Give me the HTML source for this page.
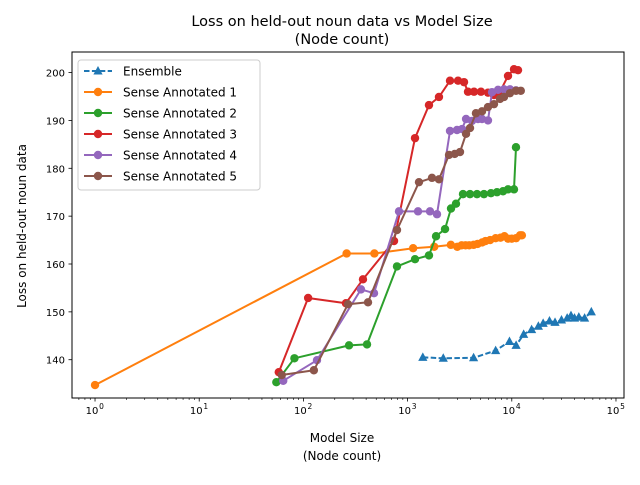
<!DOCTYPE html>
<html><head><meta charset="utf-8"><style>
body{margin:0;background:#fff}
svg text{font-family:"DejaVu Sans","Liberation Sans",sans-serif;fill:#000}
</style></head><body>
<svg id="chart" width="640" height="480" xmlns="http://www.w3.org/2000/svg">
<rect width="640" height="480" fill="#fff"/>
<g id="plot"></g>
<rect x="72" y="52" width="552" height="346" fill="none" stroke="#000" stroke-width="1"/>
<text x="342" y="26" font-size="14.5" text-anchor="middle">Loss on held-out noun data vs Model Size</text>
<text x="342" y="44" font-size="14.5" text-anchor="middle">(Node count)</text>
<text x="342" y="442" font-size="12" text-anchor="middle">Model Size</text>
<text x="342" y="460" font-size="12" text-anchor="middle">(Node count)</text>
<text transform="translate(26,226) rotate(-90)" font-size="12" text-anchor="middle">Loss on held-out noun data</text>
<g id="legend"></g>
</svg>
<script>
const ensX=[1400,2200,4300,7000,9500,11000,13000,15500,18000,20000,23000,26000,30000,34000,37000,40000,44000,50000,58000];
const ensY=[140.5,140.3,140.4,141.9,143.8,143.0,145.3,146.3,147.0,147.6,148.1,147.8,148.3,148.7,149.2,148.7,148.9,148.7,150.0];
const s1X=[1,260,480,1130,1800,2600,3000,3300,3600,3900,4300,4700,5200,5600,6200,7000,7800,8500,9200,10000,11000,12000,12500];
const s1Y=[134.7,162.2,162.2,163.3,163.6,164.0,163.6,163.9,163.9,163.9,164.0,164.2,164.5,164.8,165.0,165.4,165.5,165.8,165.3,165.3,165.4,166.0,166.0];
const s2X=[55,82,274,408,791,1178,1604,1875,2287,2611,2913,3403,3971,4637,5409,6314,7211,8240,9204,10500,10970];
const s2Y=[135.3,140.3,143.0,143.2,159.5,161.0,161.8,165.8,167.3,171.6,172.6,174.6,174.6,174.6,174.6,174.8,175.0,175.2,175.6,175.6,184.4];
const s3X=[58,111,256,373,741,1178,1604,2000,2553,3048,3479,3800,4340,5060,5910,6750,7710,9200,10500,11480];
const s3Y=[137.4,152.9,151.8,156.8,164.8,186.3,193.2,194.9,198.3,198.3,198.0,196.0,196.0,196.0,195.8,195.3,196.0,199.3,200.7,200.5];
const s4X=[64,135,357,476,827,1259,1641,1915,2553,2980,3330,3640,4150,4740,5180,5910,6460,7380,8420,9610,10970];
const s4Y=[135.6,139.9,154.7,153.9,171.0,171.0,171.0,170.4,187.8,188.0,188.2,190.3,189.9,190.3,190.3,190.0,195.9,196.4,196.5,196.5,196.3];
const s5X=[62,126,268,417,791,1286,1714,2000,2497,2833,3184,3640,3971,4530,5180,5910,6750,7710,8420,9610,10970,12200];
const s5Y=[136.8,137.8,151.6,152.0,167.1,177.1,178.0,177.7,182.8,183.0,183.4,187.2,188.4,191.5,191.9,192.8,193.4,194.5,194.9,195.7,196.2,196.2];
const yTicks=[140,150,160,170,180,190,200];
const xTickExp=[0,1,2,3,4,5];

const L=72,R=624,T=52,B=398;
const xMinE=-0.221,xMaxE=5.077,yMin=132.0,yMax=204.3;
const xs=v=>L+(Math.log10(v)-xMinE)/(xMaxE-xMinE)*(R-L);
const ys=v=>B-(v-yMin)/(yMax-yMin)*(B-T);
const NS="http://www.w3.org/2000/svg";
const plot=document.getElementById('plot');
function mk(tag,attrs,parent){const e=document.createElementNS(NS,tag);for(const k in attrs)e.setAttribute(k,attrs[k]);(parent||plot).appendChild(e);return e;}

yTicks.forEach(v=>{
  const g=mk('g',{});
  
  
  mk('line',{x1:L-3.5,x2:L,y1:ys(v),y2:ys(v),stroke:'#000','stroke-width':0.8},g);
  const t=mk('text',{x:L-7,y:ys(v)+4,'font-size':'10','text-anchor':'end'},g);t.textContent=v;
});
xTickExp.forEach(e=>{
  const x=L+(e-xMinE)/(xMaxE-xMinE)*(R-L);
  const g=mk('g',{});
  
  
  mk('line',{x1:x,x2:x,y1:B,y2:B+3.5,stroke:'#000','stroke-width':0.8},g);
  const t=mk('text',{x:x-3,y:B+16,'font-size':'10','text-anchor':'middle'},g);
  t.textContent='10';
  const s=mk('text',{x:x+6.5,y:B+11,'font-size':'7.5','text-anchor':'middle'},g);s.textContent=e;
  for(let m=2;m<10;m++){const ee=e+Math.log10(m);if(ee>xMaxE)break;
    const xm=L+(ee-xMinE)/(xMaxE-xMinE)*(R-L);
    mk('line',{x1:xm,x2:xm,y1:B,y2:B+2,stroke:'#000','stroke-width':0.6},g);}
});
{const e=-1;for(let m=2;m<10;m++){const ee=e+Math.log10(m);if(ee<xMinE)continue;const xm=L+(ee-xMinE)/(xMaxE-xMinE)*(R-L);mk('line',{x1:xm,x2:xm,y1:B,y2:B+2,stroke:'#000','stroke-width':0.6});}}

const series=[
 {name:'Ensemble',x:ensX,y:ensY,c:'#1f77b4',dash:'5.5,2.4',m:'tri'},
 {name:'Sense Annotated 1',x:s1X,y:s1Y,c:'#ff7f0e',m:'o'},
 {name:'Sense Annotated 2',x:s2X,y:s2Y,c:'#2ca02c',m:'o'},
 {name:'Sense Annotated 3',x:s3X,y:s3Y,c:'#d62728',m:'o'},
 {name:'Sense Annotated 4',x:s4X,y:s4Y,c:'#9467bd',m:'o'},
 {name:'Sense Annotated 5',x:s5X,y:s5Y,c:'#8c564b',m:'o'}
];
function marker(type,x,y,c,g){
  if(type==='o') return mk('circle',{cx:x,cy:y,r:4.2,fill:c},g);
  return mk('polygon',{points:`${x},${y-5} ${x-4.6},${y+3.5} ${x+4.6},${y+3.5}`,fill:c},g);
}
series.forEach((s,i)=>{
  const slug=s.name.toLowerCase().replace(/ /g,'-');
  const g=mk('g',{});
  
  
  const pts=s.x.map((v,j)=>xs(v).toFixed(1)+','+ys(s.y[j]).toFixed(1)).join(' ');
  const pl=mk('polyline',{points:pts,fill:'none',stroke:s.c,'stroke-width':2,'stroke-linejoin':'round'},g);
  if(s.dash)pl.setAttribute('stroke-dasharray',s.dash);
  s.x.forEach((v,j)=>{const p=marker(s.m,xs(v),ys(s.y[j]),s.c,g);
    
    });
  const lg=document.getElementById('legend');
  const ly=71+i*21;
  const e=mk('g',{},lg);
  
  
  const ln=mk('line',{x1:84,x2:112,y1:ly,y2:ly,stroke:s.c,'stroke-width':2},e);
  if(s.dash)ln.setAttribute('stroke-dasharray',s.dash);
  marker(s.m,98,ly,s.c,e);
  const t=mk('text',{x:123,y:ly+4.5,'font-size':'12'},e);t.textContent=s.name;
});
const lgBox=mk('rect',{x:78,y:60,width:182,height:130,rx:3,fill:'#fff','fill-opacity':0.8,stroke:'#ccc','stroke-width':1});
document.getElementById('legend').insertBefore(lgBox,document.getElementById('legend').firstChild);


</script>
</body></html>
